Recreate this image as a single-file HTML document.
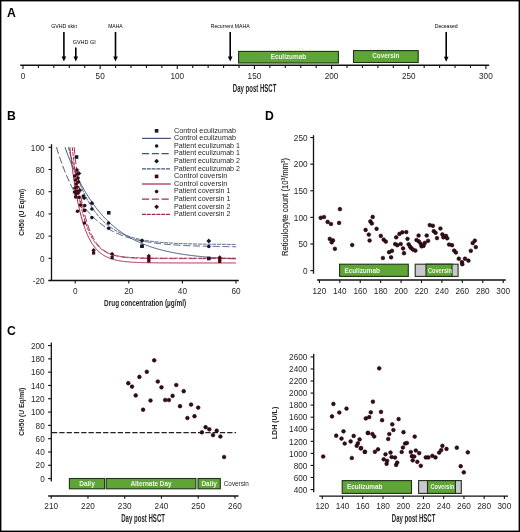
<!DOCTYPE html>
<html><head><meta charset="utf-8"><style>
html,body{margin:0;padding:0;background:#fff;}
body{width:520px;height:532px;overflow:hidden;}
svg{display:block;font-family:"Liberation Sans", sans-serif;filter:blur(0.25px);}
</style></head><body>
<svg width="520" height="532" viewBox="0 0 520 532">
<rect width="520" height="532" fill="#fff"/>
<text x="7.00" y="17.00" font-size="12.2" text-anchor="start" font-weight="bold" fill="#000">A</text>
<line x1="20.20" y1="65.30" x2="489.20" y2="65.30" stroke="#111" stroke-width="1.4"/>
<line x1="23.00" y1="65.30" x2="23.00" y2="68.90" stroke="#111" stroke-width="1.1"/>
<line x1="38.43" y1="65.30" x2="38.43" y2="67.90" stroke="#111" stroke-width="1.1"/>
<line x1="53.86" y1="65.30" x2="53.86" y2="67.90" stroke="#111" stroke-width="1.1"/>
<line x1="69.29" y1="65.30" x2="69.29" y2="67.90" stroke="#111" stroke-width="1.1"/>
<line x1="84.72" y1="65.30" x2="84.72" y2="67.90" stroke="#111" stroke-width="1.1"/>
<line x1="100.15" y1="65.30" x2="100.15" y2="68.90" stroke="#111" stroke-width="1.1"/>
<line x1="115.58" y1="65.30" x2="115.58" y2="67.90" stroke="#111" stroke-width="1.1"/>
<line x1="131.01" y1="65.30" x2="131.01" y2="67.90" stroke="#111" stroke-width="1.1"/>
<line x1="146.44" y1="65.30" x2="146.44" y2="67.90" stroke="#111" stroke-width="1.1"/>
<line x1="161.87" y1="65.30" x2="161.87" y2="67.90" stroke="#111" stroke-width="1.1"/>
<line x1="177.30" y1="65.30" x2="177.30" y2="68.90" stroke="#111" stroke-width="1.1"/>
<line x1="192.73" y1="65.30" x2="192.73" y2="67.90" stroke="#111" stroke-width="1.1"/>
<line x1="208.16" y1="65.30" x2="208.16" y2="67.90" stroke="#111" stroke-width="1.1"/>
<line x1="223.59" y1="65.30" x2="223.59" y2="67.90" stroke="#111" stroke-width="1.1"/>
<line x1="239.02" y1="65.30" x2="239.02" y2="67.90" stroke="#111" stroke-width="1.1"/>
<line x1="254.45" y1="65.30" x2="254.45" y2="68.90" stroke="#111" stroke-width="1.1"/>
<line x1="269.88" y1="65.30" x2="269.88" y2="67.90" stroke="#111" stroke-width="1.1"/>
<line x1="285.31" y1="65.30" x2="285.31" y2="67.90" stroke="#111" stroke-width="1.1"/>
<line x1="300.74" y1="65.30" x2="300.74" y2="67.90" stroke="#111" stroke-width="1.1"/>
<line x1="316.17" y1="65.30" x2="316.17" y2="67.90" stroke="#111" stroke-width="1.1"/>
<line x1="331.60" y1="65.30" x2="331.60" y2="68.90" stroke="#111" stroke-width="1.1"/>
<line x1="347.03" y1="65.30" x2="347.03" y2="67.90" stroke="#111" stroke-width="1.1"/>
<line x1="362.46" y1="65.30" x2="362.46" y2="67.90" stroke="#111" stroke-width="1.1"/>
<line x1="377.89" y1="65.30" x2="377.89" y2="67.90" stroke="#111" stroke-width="1.1"/>
<line x1="393.32" y1="65.30" x2="393.32" y2="67.90" stroke="#111" stroke-width="1.1"/>
<line x1="408.75" y1="65.30" x2="408.75" y2="68.90" stroke="#111" stroke-width="1.1"/>
<line x1="424.18" y1="65.30" x2="424.18" y2="67.90" stroke="#111" stroke-width="1.1"/>
<line x1="439.61" y1="65.30" x2="439.61" y2="67.90" stroke="#111" stroke-width="1.1"/>
<line x1="455.04" y1="65.30" x2="455.04" y2="67.90" stroke="#111" stroke-width="1.1"/>
<line x1="470.47" y1="65.30" x2="470.47" y2="67.90" stroke="#111" stroke-width="1.1"/>
<line x1="485.90" y1="65.30" x2="485.90" y2="68.90" stroke="#111" stroke-width="1.1"/>
<text x="23.00" y="78.90" font-size="8.2" text-anchor="middle" font-weight="normal" fill="#262626">0</text>
<text x="100.15" y="78.90" font-size="8.2" text-anchor="middle" font-weight="normal" fill="#262626">50</text>
<text x="177.30" y="78.90" font-size="8.2" text-anchor="middle" font-weight="normal" fill="#262626">100</text>
<text x="254.45" y="78.90" font-size="8.2" text-anchor="middle" font-weight="normal" fill="#262626">150</text>
<text x="331.60" y="78.90" font-size="8.2" text-anchor="middle" font-weight="normal" fill="#262626">200</text>
<text x="408.75" y="78.90" font-size="8.2" text-anchor="middle" font-weight="normal" fill="#262626">250</text>
<text x="485.90" y="78.90" font-size="8.2" text-anchor="middle" font-weight="normal" fill="#262626">300</text>
<text x="254.60" y="91.80" font-size="10.0" text-anchor="middle" font-weight="bold" fill="#262626" textLength="43.5" lengthAdjust="spacingAndGlyphs">Day post HSCT</text>
<line x1="63.90" y1="31.90" x2="63.90" y2="56.90" stroke="#000" stroke-width="1.6"/>
<path d="M61.60,56.40 L66.20,56.40 L63.90,61.40 Z" fill="#000"/>
<line x1="75.80" y1="47.60" x2="75.80" y2="56.90" stroke="#000" stroke-width="1.6"/>
<path d="M73.50,56.40 L78.10,56.40 L75.80,61.40 Z" fill="#000"/>
<line x1="115.50" y1="31.90" x2="115.50" y2="56.90" stroke="#000" stroke-width="1.6"/>
<path d="M113.20,56.40 L117.80,56.40 L115.50,61.40 Z" fill="#000"/>
<line x1="230.20" y1="32.10" x2="230.20" y2="57.10" stroke="#000" stroke-width="1.6"/>
<path d="M227.90,56.60 L232.50,56.60 L230.20,61.60 Z" fill="#000"/>
<line x1="446.20" y1="31.90" x2="446.20" y2="57.30" stroke="#000" stroke-width="1.6"/>
<path d="M443.90,56.80 L448.50,56.80 L446.20,61.80 Z" fill="#000"/>
<text x="64.20" y="28.00" font-size="5.4" text-anchor="middle" font-weight="normal" fill="#000" textLength="26" lengthAdjust="spacingAndGlyphs">GVHD skin</text>
<text x="84.20" y="43.90" font-size="5.4" text-anchor="middle" font-weight="normal" fill="#000" textLength="23" lengthAdjust="spacingAndGlyphs">GVHD GI</text>
<text x="115.40" y="28.00" font-size="5.4" text-anchor="middle" font-weight="normal" fill="#000" textLength="14.5" lengthAdjust="spacingAndGlyphs">MAHA</text>
<text x="230.20" y="27.90" font-size="5.4" text-anchor="middle" font-weight="normal" fill="#000" textLength="39" lengthAdjust="spacingAndGlyphs">Recurrent MAHA</text>
<text x="446.20" y="28.10" font-size="5.4" text-anchor="middle" font-weight="normal" fill="#000" textLength="23" lengthAdjust="spacingAndGlyphs">Deceased</text>
<rect x="238.60" y="51.40" width="99.80" height="11.60" fill="#5ea437" stroke="#1f3315" stroke-width="1.1"/>
<text x="288.40" y="59.40" font-size="6.4" text-anchor="middle" font-weight="bold" fill="#eef7e6" textLength="35.5" lengthAdjust="spacingAndGlyphs">Eculizumab</text>
<rect x="353.50" y="50.60" width="64.70" height="11.90" fill="#5ea437" stroke="#1f3315" stroke-width="1.1"/>
<text x="385.80" y="58.30" font-size="6.4" text-anchor="middle" font-weight="bold" fill="#eef7e6" textLength="27" lengthAdjust="spacingAndGlyphs">Coversin</text>
<text x="7.00" y="119.90" font-size="12.2" text-anchor="start" font-weight="bold" fill="#000">B</text>
<line x1="51.50" y1="144.20" x2="51.50" y2="280.50" stroke="#111" stroke-width="1.3"/>
<line x1="48.50" y1="280.50" x2="51.50" y2="280.50" stroke="#111" stroke-width="1.1"/>
<text x="44.50" y="283.70" font-size="8.2" text-anchor="end" font-weight="normal" fill="#262626">-20</text>
<line x1="48.50" y1="258.30" x2="51.50" y2="258.30" stroke="#111" stroke-width="1.1"/>
<text x="44.50" y="261.50" font-size="8.2" text-anchor="end" font-weight="normal" fill="#262626">0</text>
<line x1="48.50" y1="236.10" x2="51.50" y2="236.10" stroke="#111" stroke-width="1.1"/>
<text x="44.50" y="239.30" font-size="8.2" text-anchor="end" font-weight="normal" fill="#262626">20</text>
<line x1="48.50" y1="213.90" x2="51.50" y2="213.90" stroke="#111" stroke-width="1.1"/>
<text x="44.50" y="217.10" font-size="8.2" text-anchor="end" font-weight="normal" fill="#262626">40</text>
<line x1="48.50" y1="191.70" x2="51.50" y2="191.70" stroke="#111" stroke-width="1.1"/>
<text x="44.50" y="194.90" font-size="8.2" text-anchor="end" font-weight="normal" fill="#262626">60</text>
<line x1="48.50" y1="169.50" x2="51.50" y2="169.50" stroke="#111" stroke-width="1.1"/>
<text x="44.50" y="172.70" font-size="8.2" text-anchor="end" font-weight="normal" fill="#262626">80</text>
<line x1="48.50" y1="147.30" x2="51.50" y2="147.30" stroke="#111" stroke-width="1.1"/>
<text x="44.50" y="150.50" font-size="8.2" text-anchor="end" font-weight="normal" fill="#262626">100</text>
<line x1="48.50" y1="280.50" x2="238.80" y2="280.50" stroke="#111" stroke-width="1.3"/>
<line x1="75.20" y1="280.50" x2="75.20" y2="283.50" stroke="#111" stroke-width="1.1"/>
<text x="75.20" y="293.50" font-size="8.2" text-anchor="middle" font-weight="normal" fill="#262626">0</text>
<line x1="128.80" y1="280.50" x2="128.80" y2="283.50" stroke="#111" stroke-width="1.1"/>
<text x="128.80" y="293.50" font-size="8.2" text-anchor="middle" font-weight="normal" fill="#262626">20</text>
<line x1="182.40" y1="280.50" x2="182.40" y2="283.50" stroke="#111" stroke-width="1.1"/>
<text x="182.40" y="293.50" font-size="8.2" text-anchor="middle" font-weight="normal" fill="#262626">40</text>
<line x1="236.00" y1="280.50" x2="236.00" y2="283.50" stroke="#111" stroke-width="1.1"/>
<text x="236.00" y="293.50" font-size="8.2" text-anchor="middle" font-weight="normal" fill="#262626">60</text>
<text x="145.10" y="306.30" font-size="9.8" text-anchor="middle" font-weight="bold" fill="#262626" textLength="82" lengthAdjust="spacingAndGlyphs">Drug concentration (µg/ml)</text>
<text transform="translate(24.3,212.3) rotate(-90)" font-size="7.8" font-weight="bold" text-anchor="middle" fill="#262626" textLength="47" lengthAdjust="spacingAndGlyphs">CH50 (U Eq/ml)</text>
<clipPath id="clipB"><rect x="51" y="147.1" width="190" height="133"/></clipPath>
<polyline points="65.02,147.30 65.69,149.15 66.36,150.98 67.03,152.77 67.70,154.53 68.37,156.27 69.04,157.97 69.71,159.65 70.38,161.30 71.05,162.92 71.72,164.52 72.39,166.09 73.06,167.64 73.73,169.16 74.40,170.65 75.07,172.12 75.74,173.57 76.41,174.99 77.08,176.39 77.75,177.77 78.42,179.12 79.09,180.46 79.76,181.77 80.43,183.05 81.10,184.32 81.77,185.57 82.44,186.80 83.11,188.00 83.78,189.19 84.45,190.36 85.12,191.50 85.79,192.63 86.46,193.74 87.13,194.84 87.80,195.91 88.47,196.97 89.14,198.01 89.81,199.03 90.48,200.04 91.15,201.03 91.82,202.00 92.49,202.96 93.16,203.90 93.83,204.83 94.50,205.74 95.17,206.64 95.84,207.52 96.51,208.39 97.18,209.24 97.85,210.08 98.52,210.90 99.19,211.71 99.86,212.51 100.53,213.30 101.20,214.07 101.87,214.83 102.54,215.58 103.21,216.32 103.88,217.04 104.55,217.75 105.22,218.45 105.89,219.14 106.56,219.82 107.23,220.48 107.90,221.14 108.57,221.78 109.24,222.42 109.91,223.04 110.58,223.65 111.25,224.26 111.92,224.85 112.59,225.43 113.26,226.01 113.93,226.57 114.60,227.13 115.27,227.67 115.94,228.21 116.61,228.74 117.28,229.26 117.95,229.77 118.62,230.27 119.29,230.77 119.96,231.26 120.63,231.74 121.30,232.21 121.97,232.67 122.64,233.13 123.31,233.57 123.98,234.02 124.65,234.45 125.32,234.88 125.99,235.30 126.66,235.71 127.33,236.11 128.00,236.51 128.67,236.91 129.34,237.29 130.01,237.67 130.68,238.05 131.35,238.41 132.02,238.78 132.69,239.13 133.36,239.48 134.03,239.83 134.70,240.16 135.37,240.50 136.04,240.83 136.71,241.15 137.38,241.46 138.05,241.78 138.72,242.08 139.39,242.39 140.06,242.68 140.73,242.97 141.40,243.26 142.07,243.54 142.74,243.82 143.41,244.09 144.08,244.36 144.75,244.63 145.42,244.89 146.09,245.14 146.76,245.40 147.43,245.64 148.10,245.89 148.77,246.13 149.44,246.36 150.11,246.59 150.78,246.82 151.45,247.05 152.12,247.27 152.79,247.48 153.46,247.70 154.13,247.91 154.80,248.11 155.47,248.32 156.14,248.51 156.81,248.71 157.48,248.90 158.15,249.09 158.82,249.28 159.49,249.47 160.16,249.65 160.83,249.82 161.50,250.00 162.17,250.17 162.84,250.34 163.51,250.51 164.18,250.67 164.85,250.83 165.52,250.99 166.19,251.15 166.86,251.30 167.53,251.45 168.20,251.60 168.87,251.75 169.54,251.89 170.21,252.03 170.88,252.17 171.55,252.31 172.22,252.44 172.89,252.57 173.56,252.70 174.23,252.83 174.90,252.96 175.57,253.08 176.24,253.20 176.91,253.32 177.58,253.44 178.25,253.56 178.92,253.67 179.59,253.78 180.26,253.89 180.93,254.00 181.60,254.11 182.27,254.21 182.94,254.32 183.61,254.42 184.28,254.52 184.95,254.61 185.62,254.71 186.29,254.81 186.96,254.90 187.63,254.99 188.30,255.08 188.97,255.17 189.64,255.26 190.31,255.35 190.98,255.43 191.65,255.51 192.32,255.59 192.99,255.68 193.66,255.75 194.33,255.83 195.00,255.91 195.67,255.98 196.34,256.06 197.01,256.13 197.68,256.20 198.35,256.27 199.02,256.34 199.69,256.41 200.36,256.48 201.03,256.55 201.70,256.61 202.37,256.67 203.04,256.74 203.71,256.80 204.38,256.86 205.05,256.92 205.72,256.98 206.39,257.04 207.06,257.09 207.73,257.15 208.40,257.21 209.07,257.26 209.74,257.31 210.41,257.37 211.08,257.42 211.75,257.47 212.42,257.52 213.09,257.57 213.76,257.62 214.43,257.66 215.10,257.71 215.77,257.76 216.44,257.80 217.11,257.85 217.78,257.89 218.45,257.93 219.12,257.97 219.79,258.02 220.46,258.06 221.13,258.10 221.80,258.14 222.47,258.18 223.14,258.21 223.81,258.25 224.48,258.29 225.15,258.33 225.82,258.36 226.49,258.40 227.16,258.43 227.83,258.47 228.50,258.50 229.17,258.53 229.84,258.57 230.51,258.60 231.18,258.63 231.85,258.66 232.52,258.69 233.19,258.72 233.86,258.75 234.53,258.78 235.20,258.81 235.87,258.83" fill="none" stroke="#3f5577" stroke-width="1.0" clip-path="url(#clipB)"/>
<polyline points="56.44,147.30 57.11,149.47 57.78,151.59 58.45,153.67 59.12,155.70 59.79,157.68 60.46,159.63 61.13,161.53 61.80,163.39 62.47,165.21 63.14,166.98 63.81,168.73 64.48,170.43 65.15,172.09 65.82,173.72 66.49,175.32 67.16,176.88 67.83,178.40 68.50,179.89 69.17,181.35 69.84,182.78 70.51,184.18 71.18,185.55 71.85,186.88 72.52,188.19 73.19,189.47 73.86,190.72 74.53,191.94 75.20,193.14 75.87,194.31 76.54,195.46 77.21,196.58 77.88,197.68 78.55,198.75 79.22,199.80 79.89,200.83 80.56,201.83 81.23,202.81 81.90,203.77 82.57,204.71 83.24,205.63 83.91,206.53 84.58,207.41 85.25,208.27 85.92,209.12 86.59,209.94 87.26,210.75 87.93,211.53 88.60,212.31 89.27,213.06 89.94,213.80 90.61,214.52 91.28,215.23 91.95,215.92 92.62,216.59 93.29,217.25 93.96,217.90 94.63,218.53 95.30,219.15 95.97,219.76 96.64,220.35 97.31,220.93 97.98,221.50 98.65,222.05 99.32,222.59 99.99,223.12 100.66,223.64 101.33,224.15 102.00,224.65 102.67,225.13 103.34,225.61 104.01,226.07 104.68,226.53 105.35,226.97 106.02,227.41 106.69,227.83 107.36,228.25 108.03,228.66 108.70,229.06 109.37,229.45 110.04,229.83 110.71,230.20 111.38,230.57 112.05,230.92 112.72,231.27 113.39,231.62 114.06,231.95 114.73,232.28 115.40,232.60 116.07,232.91 116.74,233.22 117.41,233.52 118.08,233.81 118.75,234.09 119.42,234.37 120.09,234.65 120.76,234.92 121.43,235.18 122.10,235.44 122.77,235.69 123.44,235.93 124.11,236.17 124.78,236.41 125.45,236.64 126.12,236.86 126.79,237.08 127.46,237.30 128.13,237.51 128.80,237.72 129.47,237.92 130.14,238.11 130.81,238.31 131.48,238.50 132.15,238.68 132.82,238.86 133.49,239.04 134.16,239.21 134.83,239.38 135.50,239.54 136.17,239.71 136.84,239.86 137.51,240.02 138.18,240.17 138.85,240.32 139.52,240.46 140.19,240.61 140.86,240.74 141.53,240.88 142.20,241.01 142.87,241.14 143.54,241.27 144.21,241.39 144.88,241.52 145.55,241.63 146.22,241.75 146.89,241.86 147.56,241.98 148.23,242.08 148.90,242.19 149.57,242.29 150.24,242.40 150.91,242.50 151.58,242.59 152.25,242.69 152.92,242.78 153.59,242.87 154.26,242.96 154.93,243.05 155.60,243.14 156.27,243.22 156.94,243.30 157.61,243.38 158.28,243.46 158.95,243.54 159.62,243.61 160.29,243.68 160.96,243.76 161.63,243.83 162.30,243.89 162.97,243.96 163.64,244.03 164.31,244.09 164.98,244.15 165.65,244.22 166.32,244.28 166.99,244.33 167.66,244.39 168.33,244.45 169.00,244.50 169.67,244.56 170.34,244.61 171.01,244.66 171.68,244.71 172.35,244.76 173.02,244.81 173.69,244.86 174.36,244.90 175.03,244.95 175.70,244.99 176.37,245.04 177.04,245.08 177.71,245.12 178.38,245.16 179.05,245.20 179.72,245.24 180.39,245.28 181.06,245.31 181.73,245.35 182.40,245.38 183.07,245.42 183.74,245.45 184.41,245.49 185.08,245.52 185.75,245.55 186.42,245.58 187.09,245.61 187.76,245.64 188.43,245.67 189.10,245.70 189.77,245.73 190.44,245.75 191.11,245.78 191.78,245.81 192.45,245.83 193.12,245.86 193.79,245.88 194.46,245.91 195.13,245.93 195.80,245.95 196.47,245.97 197.14,246.00 197.81,246.02 198.48,246.04 199.15,246.06 199.82,246.08 200.49,246.10 201.16,246.12 201.83,246.14 202.50,246.15 203.17,246.17 203.84,246.19 204.51,246.21 205.18,246.22 205.85,246.24 206.52,246.26 207.19,246.27 207.86,246.29 208.53,246.30 209.20,246.32 209.87,246.33 210.54,246.35 211.21,246.36 211.88,246.37 212.55,246.39 213.22,246.40 213.89,246.41 214.56,246.42 215.23,246.44 215.90,246.45 216.57,246.46 217.24,246.47 217.91,246.48 218.58,246.49 219.25,246.50 219.92,246.51 220.59,246.52 221.26,246.53 221.93,246.54 222.60,246.55 223.27,246.56 223.94,246.57 224.61,246.58 225.28,246.59 225.95,246.60 226.62,246.60 227.29,246.61 227.96,246.62 228.63,246.63 229.30,246.64 229.97,246.64 230.64,246.65 231.31,246.66 231.98,246.67 232.65,246.67 233.32,246.68 233.99,246.69 234.66,246.69 235.33,246.70 236.00,246.70" fill="none" stroke="#3f5577" stroke-width="1.0" stroke-dasharray="7.1,2.7" clip-path="url(#clipB)"/>
<polyline points="68.50,147.30 69.17,149.94 69.84,152.50 70.51,155.00 71.18,157.43 71.85,159.79 72.52,162.09 73.19,164.33 73.86,166.50 74.53,168.62 75.20,170.68 75.87,172.68 76.54,174.63 77.21,176.53 77.88,178.37 78.55,180.17 79.22,181.91 79.89,183.61 80.56,185.26 81.23,186.87 81.90,188.44 82.57,189.96 83.24,191.44 83.91,192.88 84.58,194.28 85.25,195.64 85.92,196.97 86.59,198.26 87.26,199.51 87.93,200.74 88.60,201.92 89.27,203.08 89.94,204.20 90.61,205.30 91.28,206.36 91.95,207.40 92.62,208.41 93.29,209.39 93.96,210.34 94.63,211.27 95.30,212.17 95.97,213.05 96.64,213.90 97.31,214.73 97.98,215.54 98.65,216.33 99.32,217.09 99.99,217.84 100.66,218.56 101.33,219.27 102.00,219.95 102.67,220.62 103.34,221.27 104.01,221.90 104.68,222.51 105.35,223.11 106.02,223.69 106.69,224.26 107.36,224.81 108.03,225.34 108.70,225.86 109.37,226.37 110.04,226.86 110.71,227.34 111.38,227.81 112.05,228.26 112.72,228.70 113.39,229.13 114.06,229.55 114.73,229.96 115.40,230.35 116.07,230.74 116.74,231.11 117.41,231.47 118.08,231.83 118.75,232.17 119.42,232.51 120.09,232.84 120.76,233.15 121.43,233.46 122.10,233.76 122.77,234.05 123.44,234.34 124.11,234.62 124.78,234.88 125.45,235.15 126.12,235.40 126.79,235.65 127.46,235.89 128.13,236.12 128.80,236.35 129.47,236.57 130.14,236.79 130.81,237.00 131.48,237.20 132.15,237.40 132.82,237.60 133.49,237.79 134.16,237.97 134.83,238.15 135.50,238.32 136.17,238.49 136.84,238.65 137.51,238.81 138.18,238.97 138.85,239.12 139.52,239.27 140.19,239.41 140.86,239.55 141.53,239.68 142.20,239.81 142.87,239.94 143.54,240.07 144.21,240.19 144.88,240.31 145.55,240.42 146.22,240.53 146.89,240.64 147.56,240.75 148.23,240.85 148.90,240.95 149.57,241.05 150.24,241.14 150.91,241.23 151.58,241.32 152.25,241.41 152.92,241.50 153.59,241.58 154.26,241.66 154.93,241.74 155.60,241.81 156.27,241.89 156.94,241.96 157.61,242.03 158.28,242.10 158.95,242.16 159.62,242.23 160.29,242.29 160.96,242.35 161.63,242.41 162.30,242.47 162.97,242.52 163.64,242.58 164.31,242.63 164.98,242.68 165.65,242.73 166.32,242.78 166.99,242.83 167.66,242.88 168.33,242.92 169.00,242.96 169.67,243.01 170.34,243.05 171.01,243.09 171.68,243.13 172.35,243.17 173.02,243.20 173.69,243.24 174.36,243.27 175.03,243.31 175.70,243.34 176.37,243.37 177.04,243.41 177.71,243.44 178.38,243.47 179.05,243.50 179.72,243.52 180.39,243.55 181.06,243.58 181.73,243.60 182.40,243.63 183.07,243.65 183.74,243.68 184.41,243.70 185.08,243.72 185.75,243.75 186.42,243.77 187.09,243.79 187.76,243.81 188.43,243.83 189.10,243.85 189.77,243.87 190.44,243.88 191.11,243.90 191.78,243.92 192.45,243.94 193.12,243.95 193.79,243.97 194.46,243.98 195.13,244.00 195.80,244.01 196.47,244.03 197.14,244.04 197.81,244.05 198.48,244.07 199.15,244.08 199.82,244.09 200.49,244.10 201.16,244.12 201.83,244.13 202.50,244.14 203.17,244.15 203.84,244.16 204.51,244.17 205.18,244.18 205.85,244.19 206.52,244.20 207.19,244.21 207.86,244.22 208.53,244.23 209.20,244.23 209.87,244.24 210.54,244.25 211.21,244.26 211.88,244.27 212.55,244.27 213.22,244.28 213.89,244.29 214.56,244.29 215.23,244.30 215.90,244.31 216.57,244.31 217.24,244.32 217.91,244.32 218.58,244.33 219.25,244.34 219.92,244.34 220.59,244.35 221.26,244.35 221.93,244.36 222.60,244.36 223.27,244.37 223.94,244.37 224.61,244.38 225.28,244.38 225.95,244.38 226.62,244.39 227.29,244.39 227.96,244.40 228.63,244.40 229.30,244.40 229.97,244.41 230.64,244.41 231.31,244.41 231.98,244.42 232.65,244.42 233.32,244.42 233.99,244.43 234.66,244.43 235.33,244.43 236.00,244.44" fill="none" stroke="#3f5577" stroke-width="1.0" stroke-dasharray="3.9,0.9" clip-path="url(#clipB)"/>
<polyline points="69.84,147.30 70.51,153.35 71.18,159.09 71.85,164.52 72.52,169.68 73.19,174.56 73.86,179.18 74.53,183.57 75.20,187.72 75.87,191.66 76.54,195.39 77.21,198.93 77.88,202.28 78.55,205.45 79.22,208.46 79.89,211.32 80.56,214.02 81.23,216.58 81.90,219.01 82.57,221.31 83.24,223.49 83.91,225.55 84.58,227.51 85.25,229.37 85.92,231.12 86.59,232.79 87.26,234.37 87.93,235.87 88.60,237.28 89.27,238.63 89.94,239.90 90.61,241.11 91.28,242.25 91.95,243.33 92.62,244.36 93.29,245.34 93.96,246.26 94.63,247.13 95.30,247.96 95.97,248.75 96.64,249.49 97.31,250.19 97.98,250.86 98.65,251.50 99.32,252.10 99.99,252.66 100.66,253.20 101.33,253.71 102.00,254.20 102.67,254.66 103.34,255.09 104.01,255.50 104.68,255.89 105.35,256.26 106.02,256.61 106.69,256.95 107.36,257.26 108.03,257.56 108.70,257.84 109.37,258.11 110.04,258.36 110.71,258.60 111.38,258.83 112.05,259.05 112.72,259.25 113.39,259.45 114.06,259.63 114.73,259.81 115.40,259.97 116.07,260.13 116.74,260.28 117.41,260.42 118.08,260.55 118.75,260.68 119.42,260.80 120.09,260.91 120.76,261.02 121.43,261.12 122.10,261.21 122.77,261.31 123.44,261.39 124.11,261.47 124.78,261.55 125.45,261.63 126.12,261.70 126.79,261.76 127.46,261.83 128.13,261.88 128.80,261.94 129.47,261.99 130.14,262.05 130.81,262.09 131.48,262.14 132.15,262.18 132.82,262.22 133.49,262.26 134.16,262.30 134.83,262.33 135.50,262.37 136.17,262.40 136.84,262.43 137.51,262.45 138.18,262.48 138.85,262.51 139.52,262.53 140.19,262.55 140.86,262.57 141.53,262.59 142.20,262.61 142.87,262.63 143.54,262.65 144.21,262.67 144.88,262.68 145.55,262.70 146.22,262.71 146.89,262.72 147.56,262.74 148.23,262.75 148.90,262.76 149.57,262.77 150.24,262.78 150.91,262.79 151.58,262.80 152.25,262.81 152.92,262.81 153.59,262.82 154.26,262.83 154.93,262.84 155.60,262.84 156.27,262.85 156.94,262.86 157.61,262.86 158.28,262.87 158.95,262.87 159.62,262.88 160.29,262.88 160.96,262.88 161.63,262.89 162.30,262.89 162.97,262.90 163.64,262.90 164.31,262.90 164.98,262.91 165.65,262.91 166.32,262.91 166.99,262.91 167.66,262.92 168.33,262.92 169.00,262.92 169.67,262.92 170.34,262.93 171.01,262.93 171.68,262.93 172.35,262.93 173.02,262.93 173.69,262.93 174.36,262.94 175.03,262.94 175.70,262.94 176.37,262.94 177.04,262.94 177.71,262.94 178.38,262.94 179.05,262.94 179.72,262.94 180.39,262.95 181.06,262.95 181.73,262.95 182.40,262.95 183.07,262.95 183.74,262.95 184.41,262.95 185.08,262.95 185.75,262.95 186.42,262.95 187.09,262.95 187.76,262.95 188.43,262.95 189.10,262.95 189.77,262.95 190.44,262.95 191.11,262.96 191.78,262.96 192.45,262.96 193.12,262.96 193.79,262.96 194.46,262.96 195.13,262.96 195.80,262.96 196.47,262.96 197.14,262.96 197.81,262.96 198.48,262.96 199.15,262.96 199.82,262.96 200.49,262.96 201.16,262.96 201.83,262.96 202.50,262.96 203.17,262.96 203.84,262.96 204.51,262.96 205.18,262.96 205.85,262.96 206.52,262.96 207.19,262.96 207.86,262.96 208.53,262.96 209.20,262.96 209.87,262.96 210.54,262.96 211.21,262.96 211.88,262.96 212.55,262.96 213.22,262.96 213.89,262.96 214.56,262.96 215.23,262.96 215.90,262.96 216.57,262.96 217.24,262.96 217.91,262.96 218.58,262.96 219.25,262.96 219.92,262.96 220.59,262.96 221.26,262.96 221.93,262.96 222.60,262.96 223.27,262.96 223.94,262.96 224.61,262.96 225.28,262.96 225.95,262.96 226.62,262.96 227.29,262.96 227.96,262.96 228.63,262.96 229.30,262.96 229.97,262.96 230.64,262.96 231.31,262.96 231.98,262.96 232.65,262.96 233.32,262.96 233.99,262.96 234.66,262.96 235.33,262.96 236.00,262.96" fill="none" stroke="#a8284a" stroke-width="1.0" clip-path="url(#clipB)"/>
<polyline points="74.13,147.30 74.80,153.65 75.47,159.64 76.14,165.29 76.81,170.62 77.48,175.64 78.15,180.37 78.82,184.84 79.49,189.05 80.16,193.02 80.83,196.76 81.50,200.29 82.17,203.62 82.84,206.76 83.51,209.72 84.18,212.51 84.85,215.14 85.52,217.62 86.19,219.96 86.86,222.17 87.53,224.25 88.20,226.21 88.87,228.06 89.54,229.81 90.21,231.45 90.88,233.00 91.55,234.47 92.22,235.84 92.89,237.14 93.56,238.37 94.23,239.53 94.90,240.62 95.57,241.64 96.24,242.61 96.91,243.53 97.58,244.39 98.25,245.20 98.92,245.97 99.59,246.69 100.26,247.37 100.93,248.02 101.60,248.62 102.27,249.19 102.94,249.73 103.61,250.24 104.28,250.72 104.95,251.17 105.62,251.60 106.29,252.00 106.96,252.38 107.63,252.73 108.30,253.07 108.97,253.39 109.64,253.69 110.31,253.97 110.98,254.23 111.65,254.49 112.32,254.72 112.99,254.95 113.66,255.16 114.33,255.35 115.00,255.54 115.67,255.72 116.34,255.88 117.01,256.04 117.68,256.19 118.35,256.33 119.02,256.46 119.69,256.58 120.36,256.70 121.03,256.81 121.70,256.91 122.37,257.01 123.04,257.11 123.71,257.19 124.38,257.27 125.05,257.35 125.72,257.43 126.39,257.49 127.06,257.56 127.73,257.62 128.40,257.68 129.07,257.73 129.74,257.78 130.41,257.83 131.08,257.88 131.75,257.92 132.42,257.96 133.09,258.00 133.76,258.04 134.43,258.07 135.10,258.10 135.77,258.13 136.44,258.16 137.11,258.19 137.78,258.21 138.45,258.24 139.12,258.26 139.79,258.28 140.46,258.30 141.13,258.32 141.80,258.34 142.47,258.35 143.14,258.37 143.81,258.39 144.48,258.40 145.15,258.41 145.82,258.43 146.49,258.44 147.16,258.45 147.83,258.46 148.50,258.47 149.17,258.48 149.84,258.49 150.51,258.50 151.18,258.50 151.85,258.51 152.52,258.52 153.19,258.52 153.86,258.53 154.53,258.54 155.20,258.54 155.87,258.55 156.54,258.55 157.21,258.56 157.88,258.56 158.55,258.57 159.22,258.57 159.89,258.57 160.56,258.58 161.23,258.58 161.90,258.58 162.57,258.59 163.24,258.59 163.91,258.59 164.58,258.59 165.25,258.60 165.92,258.60 166.59,258.60 167.26,258.60 167.93,258.60 168.60,258.60 169.27,258.61 169.94,258.61 170.61,258.61 171.28,258.61 171.95,258.61 172.62,258.61 173.29,258.61 173.96,258.62 174.63,258.62 175.30,258.62 175.97,258.62 176.64,258.62 177.31,258.62 177.98,258.62 178.65,258.62 179.32,258.62 179.99,258.62 180.66,258.62 181.33,258.62 182.00,258.62 182.67,258.62 183.34,258.63 184.01,258.63 184.68,258.63 185.35,258.63 186.02,258.63 186.69,258.63 187.36,258.63 188.03,258.63 188.70,258.63 189.37,258.63 190.04,258.63 190.71,258.63 191.38,258.63 192.05,258.63 192.72,258.63 193.39,258.63 194.06,258.63 194.73,258.63 195.40,258.63 196.07,258.63 196.74,258.63 197.41,258.63 198.08,258.63 198.75,258.63 199.42,258.63 200.09,258.63 200.76,258.63 201.43,258.63 202.10,258.63 202.77,258.63 203.44,258.63 204.11,258.63 204.78,258.63 205.45,258.63 206.12,258.63 206.79,258.63 207.46,258.63 208.13,258.63 208.80,258.63 209.47,258.63 210.14,258.63 210.81,258.63 211.48,258.63 212.15,258.63 212.82,258.63 213.49,258.63 214.16,258.63 214.83,258.63 215.50,258.63 216.17,258.63 216.84,258.63 217.51,258.63 218.18,258.63 218.85,258.63 219.52,258.63 220.19,258.63 220.86,258.63 221.53,258.63 222.20,258.63 222.87,258.63 223.54,258.63 224.21,258.63 224.88,258.63 225.55,258.63 226.22,258.63 226.89,258.63 227.56,258.63 228.23,258.63 228.90,258.63 229.57,258.63 230.24,258.63 230.91,258.63 231.58,258.63 232.25,258.63 232.92,258.63 233.59,258.63 234.26,258.63 234.93,258.63 235.60,258.63" fill="none" stroke="#a8284a" stroke-width="1.0" stroke-dasharray="7.1,2.7" clip-path="url(#clipB)"/>
<polyline points="72.25,147.30 72.92,153.50 73.59,159.35 74.26,164.87 74.93,170.08 75.60,175.01 76.27,179.66 76.94,184.04 77.61,188.19 78.28,192.10 78.95,195.79 79.62,199.28 80.29,202.57 80.96,205.68 81.63,208.61 82.30,211.38 82.97,214.00 83.64,216.47 84.31,218.80 84.98,221.00 85.65,223.08 86.32,225.04 86.99,226.89 87.66,228.64 88.33,230.29 89.00,231.85 89.67,233.32 90.34,234.71 91.01,236.02 91.68,237.26 92.35,238.43 93.02,239.54 93.69,240.58 94.36,241.56 95.03,242.49 95.70,243.37 96.37,244.20 97.04,244.98 97.71,245.72 98.38,246.41 99.05,247.07 99.72,247.69 100.39,248.28 101.06,248.83 101.73,249.36 102.40,249.85 103.07,250.32 103.74,250.76 104.41,251.17 105.08,251.56 105.75,251.93 106.42,252.28 107.09,252.61 107.76,252.92 108.43,253.22 109.10,253.50 109.77,253.76 110.44,254.01 111.11,254.24 111.78,254.46 112.45,254.67 113.12,254.87 113.79,255.05 114.46,255.23 115.13,255.39 115.80,255.55 116.47,255.70 117.14,255.84 117.81,255.97 118.48,256.09 119.15,256.21 119.82,256.32 120.49,256.42 121.16,256.52 121.83,256.62 122.50,256.70 123.17,256.79 123.84,256.86 124.51,256.94 125.18,257.01 125.85,257.07 126.52,257.14 127.19,257.20 127.86,257.25 128.53,257.30 129.20,257.35 129.87,257.40 130.54,257.44 131.21,257.49 131.88,257.52 132.55,257.56 133.22,257.60 133.89,257.63 134.56,257.66 135.23,257.69 135.90,257.72 136.57,257.74 137.24,257.77 137.91,257.79 138.58,257.82 139.25,257.84 139.92,257.86 140.59,257.87 141.26,257.89 141.93,257.91 142.60,257.92 143.27,257.94 143.94,257.95 144.61,257.97 145.28,257.98 145.95,257.99 146.62,258.00 147.29,258.01 147.96,258.02 148.63,258.03 149.30,258.04 149.97,258.05 150.64,258.06 151.31,258.06 151.98,258.07 152.65,258.08 153.32,258.08 153.99,258.09 154.66,258.09 155.33,258.10 156.00,258.11 156.67,258.11 157.34,258.11 158.01,258.12 158.68,258.12 159.35,258.13 160.02,258.13 160.69,258.13 161.36,258.14 162.03,258.14 162.70,258.14 163.37,258.14 164.04,258.15 164.71,258.15 165.38,258.15 166.05,258.15 166.72,258.16 167.39,258.16 168.06,258.16 168.73,258.16 169.40,258.16 170.07,258.16 170.74,258.17 171.41,258.17 172.08,258.17 172.75,258.17 173.42,258.17 174.09,258.17 174.76,258.17 175.43,258.17 176.10,258.17 176.77,258.17 177.44,258.18 178.11,258.18 178.78,258.18 179.45,258.18 180.12,258.18 180.79,258.18 181.46,258.18 182.13,258.18 182.80,258.18 183.47,258.18 184.14,258.18 184.81,258.18 185.48,258.18 186.15,258.18 186.82,258.18 187.49,258.18 188.16,258.18 188.83,258.18 189.50,258.18 190.17,258.18 190.84,258.18 191.51,258.19 192.18,258.19 192.85,258.19 193.52,258.19 194.19,258.19 194.86,258.19 195.53,258.19 196.20,258.19 196.87,258.19 197.54,258.19 198.21,258.19 198.88,258.19 199.55,258.19 200.22,258.19 200.89,258.19 201.56,258.19 202.23,258.19 202.90,258.19 203.57,258.19 204.24,258.19 204.91,258.19 205.58,258.19 206.25,258.19 206.92,258.19 207.59,258.19 208.26,258.19 208.93,258.19 209.60,258.19 210.27,258.19 210.94,258.19 211.61,258.19 212.28,258.19 212.95,258.19 213.62,258.19 214.29,258.19 214.96,258.19 215.63,258.19 216.30,258.19 216.97,258.19 217.64,258.19 218.31,258.19 218.98,258.19 219.65,258.19 220.32,258.19 220.99,258.19 221.66,258.19 222.33,258.19 223.00,258.19 223.67,258.19 224.34,258.19 225.01,258.19 225.68,258.19 226.35,258.19 227.02,258.19 227.69,258.19 228.36,258.19 229.03,258.19 229.70,258.19 230.37,258.19 231.04,258.19 231.71,258.19 232.38,258.19 233.05,258.19 233.72,258.19 234.39,258.19 235.06,258.19 235.73,258.19" fill="none" stroke="#a8284a" stroke-width="1.0" stroke-dasharray="3.9,0.9" clip-path="url(#clipB)"/>
<rect x="74.70" y="155.20" width="3.6" height="3.6" fill="#151a2a"/>
<rect x="106.95" y="211.00" width="3.6" height="3.6" fill="#151a2a"/>
<rect x="140.20" y="244.40" width="3.6" height="3.6" fill="#151a2a"/>
<rect x="207.00" y="256.70" width="3.6" height="3.6" fill="#151a2a"/>
<circle cx="91.90" cy="209.00" r="1.8" fill="#151a2a"/>
<circle cx="91.90" cy="217.60" r="1.8" fill="#151a2a"/>
<circle cx="108.60" cy="223.00" r="1.8" fill="#151a2a"/>
<circle cx="108.60" cy="228.30" r="1.8" fill="#151a2a"/>
<circle cx="142.00" cy="246.20" r="1.8" fill="#151a2a"/>
<circle cx="208.80" cy="246.50" r="1.8" fill="#151a2a"/>
<circle cx="83.30" cy="196.00" r="1.8" fill="#151a2a"/>
<path d="M78.90,171.00 L81.30,173.40 L78.90,175.80 L76.50,173.40 Z" fill="#151a2a"/>
<path d="M91.90,200.80 L94.30,203.20 L91.90,205.60 L89.50,203.20 Z" fill="#151a2a"/>
<path d="M142.00,238.30 L144.40,240.70 L142.00,243.10 L139.60,240.70 Z" fill="#151a2a"/>
<path d="M208.80,238.60 L211.20,241.00 L208.80,243.40 L206.40,241.00 Z" fill="#151a2a"/>
<path d="M84.20,195.50 L86.60,197.90 L84.20,200.30 L81.80,197.90 Z" fill="#151a2a"/>
<circle cx="74.60" cy="176.00" r="1.8" fill="#3e0a16"/>
<circle cx="75.50" cy="180.00" r="1.8" fill="#3e0a16"/>
<circle cx="76.20" cy="184.00" r="1.8" fill="#3e0a16"/>
<circle cx="75.00" cy="188.00" r="1.8" fill="#3e0a16"/>
<circle cx="76.80" cy="191.00" r="1.8" fill="#3e0a16"/>
<circle cx="75.60" cy="196.90" r="1.8" fill="#3e0a16"/>
<circle cx="79.90" cy="190.20" r="1.8" fill="#3e0a16"/>
<circle cx="80.40" cy="205.10" r="1.8" fill="#3e0a16"/>
<circle cx="84.70" cy="205.60" r="1.8" fill="#3e0a16"/>
<circle cx="84.70" cy="210.40" r="1.8" fill="#3e0a16"/>
<circle cx="77.50" cy="211.30" r="1.8" fill="#3e0a16"/>
<circle cx="84.40" cy="223.00" r="1.8" fill="#3e0a16"/>
<circle cx="77.00" cy="170.00" r="1.8" fill="#3e0a16"/>
<circle cx="78.00" cy="178.00" r="1.8" fill="#3e0a16"/>
<circle cx="77.50" cy="174.00" r="1.8" fill="#3e0a16"/>
<circle cx="78.50" cy="182.00" r="1.8" fill="#3e0a16"/>
<circle cx="77.20" cy="187.00" r="1.8" fill="#3e0a16"/>
<circle cx="78.20" cy="193.00" r="1.8" fill="#3e0a16"/>
<circle cx="76.00" cy="194.00" r="1.8" fill="#3e0a16"/>
<circle cx="79.00" cy="197.50" r="1.8" fill="#3e0a16"/>
<circle cx="74.50" cy="192.00" r="1.8" fill="#3e0a16"/>
<rect x="92.00" y="251.40" width="3.2" height="3.2" fill="#3e0a16"/>
<rect x="110.50" y="255.90" width="3.2" height="3.2" fill="#3e0a16"/>
<rect x="147.20" y="256.90" width="3.2" height="3.2" fill="#3e0a16"/>
<rect x="147.20" y="259.40" width="3.2" height="3.2" fill="#3e0a16"/>
<rect x="218.10" y="257.90" width="3.2" height="3.2" fill="#3e0a16"/>
<rect x="218.10" y="259.90" width="3.2" height="3.2" fill="#3e0a16"/>
<path d="M93.60,248.00 L95.80,250.20 L93.60,252.40 L91.40,250.20 Z" fill="#3e0a16"/>
<path d="M112.10,251.80 L114.30,254.00 L112.10,256.20 L109.90,254.00 Z" fill="#3e0a16"/>
<path d="M148.80,253.80 L151.00,256.00 L148.80,258.20 L146.60,256.00 Z" fill="#3e0a16"/>
<path d="M219.70,255.30 L221.90,257.50 L219.70,259.70 L217.50,257.50 Z" fill="#3e0a16"/>
<rect x="154.80" y="129.00" width="3.6" height="3.6" fill="#151a2a"/>
<text x="174.00" y="132.60" font-size="7.3" text-anchor="start" font-weight="normal" fill="#262626" textLength="62" lengthAdjust="spacingAndGlyphs">Control eculizumab</text>
<line x1="142.00" y1="138.40" x2="170.80" y2="138.40" stroke="#3f5577" stroke-width="1.2"/>
<text x="174.00" y="140.20" font-size="7.3" text-anchor="start" font-weight="normal" fill="#262626" textLength="62" lengthAdjust="spacingAndGlyphs">Control eculizumab</text>
<circle cx="156.60" cy="146.00" r="1.8" fill="#151a2a"/>
<text x="174.00" y="147.80" font-size="7.3" text-anchor="start" font-weight="normal" fill="#262626" textLength="66" lengthAdjust="spacingAndGlyphs">Patient eculizumab 1</text>
<line x1="142.00" y1="153.60" x2="170.80" y2="153.60" stroke="#3f5577" stroke-width="1.2" stroke-dasharray="7.1,2.7"/>
<text x="174.00" y="155.40" font-size="7.3" text-anchor="start" font-weight="normal" fill="#262626" textLength="66" lengthAdjust="spacingAndGlyphs">Patient eculizumab 1</text>
<path d="M156.60,158.80 L159.00,161.20 L156.60,163.60 L154.20,161.20 Z" fill="#151a2a"/>
<text x="174.00" y="163.00" font-size="7.3" text-anchor="start" font-weight="normal" fill="#262626" textLength="66" lengthAdjust="spacingAndGlyphs">Patient eculizumab 2</text>
<line x1="142.00" y1="168.80" x2="170.80" y2="168.80" stroke="#3f5577" stroke-width="1.2" stroke-dasharray="3.9,0.9"/>
<text x="174.00" y="170.60" font-size="7.3" text-anchor="start" font-weight="normal" fill="#262626" textLength="66" lengthAdjust="spacingAndGlyphs">Patient eculizumab 2</text>
<rect x="154.80" y="174.60" width="3.6" height="3.6" fill="#3e0a16"/>
<text x="174.00" y="178.20" font-size="7.3" text-anchor="start" font-weight="normal" fill="#262626" textLength="53.3" lengthAdjust="spacingAndGlyphs">Control coversin</text>
<line x1="142.00" y1="184.00" x2="170.80" y2="184.00" stroke="#a8284a" stroke-width="1.2"/>
<text x="174.00" y="185.80" font-size="7.3" text-anchor="start" font-weight="normal" fill="#262626" textLength="53.3" lengthAdjust="spacingAndGlyphs">Control coversin</text>
<circle cx="156.60" cy="191.60" r="1.8" fill="#3e0a16"/>
<text x="174.00" y="193.40" font-size="7.3" text-anchor="start" font-weight="normal" fill="#262626" textLength="56.5" lengthAdjust="spacingAndGlyphs">Patient coversin 1</text>
<line x1="142.00" y1="199.20" x2="170.80" y2="199.20" stroke="#a8284a" stroke-width="1.2" stroke-dasharray="7.1,2.7"/>
<text x="174.00" y="201.00" font-size="7.3" text-anchor="start" font-weight="normal" fill="#262626" textLength="56.5" lengthAdjust="spacingAndGlyphs">Patient coversin 1</text>
<path d="M156.60,204.40 L159.00,206.80 L156.60,209.20 L154.20,206.80 Z" fill="#3e0a16"/>
<text x="174.00" y="208.60" font-size="7.3" text-anchor="start" font-weight="normal" fill="#262626" textLength="56.5" lengthAdjust="spacingAndGlyphs">Patient coversin 2</text>
<line x1="142.00" y1="214.40" x2="170.80" y2="214.40" stroke="#a8284a" stroke-width="1.2" stroke-dasharray="3.9,0.9"/>
<text x="174.00" y="216.20" font-size="7.3" text-anchor="start" font-weight="normal" fill="#262626" textLength="56.5" lengthAdjust="spacingAndGlyphs">Patient coversin 2</text>
<text x="7.00" y="335.20" font-size="12.2" text-anchor="start" font-weight="bold" fill="#000">C</text>
<line x1="51.30" y1="342.50" x2="51.30" y2="481.40" stroke="#111" stroke-width="1.3"/>
<line x1="48.10" y1="478.60" x2="51.20" y2="478.60" stroke="#111" stroke-width="1.1"/>
<text x="44.70" y="481.80" font-size="8.2" text-anchor="end" font-weight="normal" fill="#262626">0</text>
<line x1="48.10" y1="465.29" x2="51.20" y2="465.29" stroke="#111" stroke-width="1.1"/>
<text x="44.70" y="468.49" font-size="8.2" text-anchor="end" font-weight="normal" fill="#262626">20</text>
<line x1="48.10" y1="451.99" x2="51.20" y2="451.99" stroke="#111" stroke-width="1.1"/>
<text x="44.70" y="455.19" font-size="8.2" text-anchor="end" font-weight="normal" fill="#262626">40</text>
<line x1="48.10" y1="438.68" x2="51.20" y2="438.68" stroke="#111" stroke-width="1.1"/>
<text x="44.70" y="441.88" font-size="8.2" text-anchor="end" font-weight="normal" fill="#262626">60</text>
<line x1="48.10" y1="425.38" x2="51.20" y2="425.38" stroke="#111" stroke-width="1.1"/>
<text x="44.70" y="428.58" font-size="8.2" text-anchor="end" font-weight="normal" fill="#262626">80</text>
<line x1="48.10" y1="412.07" x2="51.20" y2="412.07" stroke="#111" stroke-width="1.1"/>
<text x="44.70" y="415.27" font-size="8.2" text-anchor="end" font-weight="normal" fill="#262626">100</text>
<line x1="48.10" y1="398.76" x2="51.20" y2="398.76" stroke="#111" stroke-width="1.1"/>
<text x="44.70" y="401.96" font-size="8.2" text-anchor="end" font-weight="normal" fill="#262626">120</text>
<line x1="48.10" y1="385.46" x2="51.20" y2="385.46" stroke="#111" stroke-width="1.1"/>
<text x="44.70" y="388.66" font-size="8.2" text-anchor="end" font-weight="normal" fill="#262626">140</text>
<line x1="48.10" y1="372.15" x2="51.20" y2="372.15" stroke="#111" stroke-width="1.1"/>
<text x="44.70" y="375.35" font-size="8.2" text-anchor="end" font-weight="normal" fill="#262626">160</text>
<line x1="48.10" y1="358.85" x2="51.20" y2="358.85" stroke="#111" stroke-width="1.1"/>
<text x="44.70" y="362.05" font-size="8.2" text-anchor="end" font-weight="normal" fill="#262626">180</text>
<line x1="48.10" y1="345.54" x2="51.20" y2="345.54" stroke="#111" stroke-width="1.1"/>
<text x="44.70" y="348.74" font-size="8.2" text-anchor="end" font-weight="normal" fill="#262626">200</text>
<line x1="48.20" y1="496.00" x2="238.50" y2="496.00" stroke="#111" stroke-width="1.3"/>
<line x1="51.20" y1="496.00" x2="51.20" y2="498.80" stroke="#111" stroke-width="1.1"/>
<text x="51.20" y="509.30" font-size="8.2" text-anchor="middle" font-weight="normal" fill="#262626">210</text>
<line x1="87.95" y1="496.00" x2="87.95" y2="498.80" stroke="#111" stroke-width="1.1"/>
<text x="87.95" y="509.30" font-size="8.2" text-anchor="middle" font-weight="normal" fill="#262626">220</text>
<line x1="124.70" y1="496.00" x2="124.70" y2="498.80" stroke="#111" stroke-width="1.1"/>
<text x="124.70" y="509.30" font-size="8.2" text-anchor="middle" font-weight="normal" fill="#262626">230</text>
<line x1="161.45" y1="496.00" x2="161.45" y2="498.80" stroke="#111" stroke-width="1.1"/>
<text x="161.45" y="509.30" font-size="8.2" text-anchor="middle" font-weight="normal" fill="#262626">240</text>
<line x1="198.20" y1="496.00" x2="198.20" y2="498.80" stroke="#111" stroke-width="1.1"/>
<text x="198.20" y="509.30" font-size="8.2" text-anchor="middle" font-weight="normal" fill="#262626">250</text>
<line x1="234.95" y1="496.00" x2="234.95" y2="498.80" stroke="#111" stroke-width="1.1"/>
<text x="234.95" y="509.30" font-size="8.2" text-anchor="middle" font-weight="normal" fill="#262626">260</text>
<text x="143.10" y="522.20" font-size="10.0" text-anchor="middle" font-weight="bold" fill="#262626" textLength="43.8" lengthAdjust="spacingAndGlyphs">Day post HSCT</text>
<text transform="translate(24.3,411.8) rotate(-90)" font-size="7.8" font-weight="bold" text-anchor="middle" fill="#262626" textLength="48" lengthAdjust="spacingAndGlyphs">CH50 (U Eq/ml)</text>
<line x1="52.00" y1="432.70" x2="236.00" y2="432.70" stroke="#222" stroke-width="1.3" stroke-dasharray="5.3,2.0"/>
<circle cx="128.30" cy="383.20" r="1.85" fill="#3a0a17" stroke="#120306" stroke-width="0.6"/>
<circle cx="132.00" cy="386.60" r="1.85" fill="#3a0a17" stroke="#120306" stroke-width="0.6"/>
<circle cx="135.70" cy="395.40" r="1.85" fill="#3a0a17" stroke="#120306" stroke-width="0.6"/>
<circle cx="139.40" cy="376.90" r="1.85" fill="#3a0a17" stroke="#120306" stroke-width="0.6"/>
<circle cx="143.10" cy="409.70" r="1.85" fill="#3a0a17" stroke="#120306" stroke-width="0.6"/>
<circle cx="146.80" cy="371.80" r="1.85" fill="#3a0a17" stroke="#120306" stroke-width="0.6"/>
<circle cx="150.50" cy="400.50" r="1.85" fill="#3a0a17" stroke="#120306" stroke-width="0.6"/>
<circle cx="154.20" cy="360.30" r="1.85" fill="#3a0a17" stroke="#120306" stroke-width="0.6"/>
<circle cx="157.80" cy="381.50" r="1.85" fill="#3a0a17" stroke="#120306" stroke-width="0.6"/>
<circle cx="161.50" cy="387.30" r="1.85" fill="#3a0a17" stroke="#120306" stroke-width="0.6"/>
<circle cx="165.20" cy="400.00" r="1.85" fill="#3a0a17" stroke="#120306" stroke-width="0.6"/>
<circle cx="168.90" cy="400.00" r="1.85" fill="#3a0a17" stroke="#120306" stroke-width="0.6"/>
<circle cx="172.60" cy="395.80" r="1.85" fill="#3a0a17" stroke="#120306" stroke-width="0.6"/>
<circle cx="176.30" cy="385.00" r="1.85" fill="#3a0a17" stroke="#120306" stroke-width="0.6"/>
<circle cx="180.00" cy="406.20" r="1.85" fill="#3a0a17" stroke="#120306" stroke-width="0.6"/>
<circle cx="183.70" cy="391.20" r="1.85" fill="#3a0a17" stroke="#120306" stroke-width="0.6"/>
<circle cx="187.40" cy="418.00" r="1.85" fill="#3a0a17" stroke="#120306" stroke-width="0.6"/>
<circle cx="191.10" cy="404.60" r="1.85" fill="#3a0a17" stroke="#120306" stroke-width="0.6"/>
<circle cx="194.50" cy="416.20" r="1.85" fill="#3a0a17" stroke="#120306" stroke-width="0.6"/>
<circle cx="198.20" cy="407.60" r="1.85" fill="#3a0a17" stroke="#120306" stroke-width="0.6"/>
<circle cx="201.90" cy="432.30" r="1.85" fill="#3a0a17" stroke="#120306" stroke-width="0.6"/>
<circle cx="205.60" cy="427.20" r="1.85" fill="#3a0a17" stroke="#120306" stroke-width="0.6"/>
<circle cx="209.30" cy="429.30" r="1.85" fill="#3a0a17" stroke="#120306" stroke-width="0.6"/>
<circle cx="213.00" cy="435.10" r="1.85" fill="#3a0a17" stroke="#120306" stroke-width="0.6"/>
<circle cx="216.70" cy="430.70" r="1.85" fill="#3a0a17" stroke="#120306" stroke-width="0.6"/>
<circle cx="220.40" cy="436.50" r="1.85" fill="#3a0a17" stroke="#120306" stroke-width="0.6"/>
<circle cx="224.10" cy="457.00" r="1.85" fill="#3a0a17" stroke="#120306" stroke-width="0.6"/>
<rect x="69.40" y="478.50" width="35.20" height="10.30" fill="#5ea437" stroke="#1f3315" stroke-width="1.1"/>
<text x="87.00" y="486.20" font-size="6.4" text-anchor="middle" font-weight="bold" fill="#eef7e6" textLength="15.5" lengthAdjust="spacingAndGlyphs">Daily</text>
<rect x="106.20" y="478.50" width="89.70" height="10.30" fill="#5ea437" stroke="#1f3315" stroke-width="1.1"/>
<text x="151.00" y="486.20" font-size="6.4" text-anchor="middle" font-weight="bold" fill="#eef7e6" textLength="41" lengthAdjust="spacingAndGlyphs">Alternate Day</text>
<rect x="198.00" y="478.50" width="22.30" height="10.30" fill="#5ea437" stroke="#1f3315" stroke-width="1.1"/>
<text x="209.20" y="486.20" font-size="6.4" text-anchor="middle" font-weight="bold" fill="#eef7e6" textLength="15.5" lengthAdjust="spacingAndGlyphs">Daily</text>
<text x="223.80" y="486.20" font-size="6.4" text-anchor="start" font-weight="normal" fill="#262626" textLength="25" lengthAdjust="spacingAndGlyphs">Coversin</text>
<text x="265.00" y="120.20" font-size="12.2" text-anchor="start" font-weight="bold" fill="#000">D</text>
<line x1="313.50" y1="135.20" x2="313.50" y2="273.70" stroke="#111" stroke-width="1.3"/>
<line x1="310.30" y1="270.60" x2="313.50" y2="270.60" stroke="#111" stroke-width="1.1"/>
<text x="307.50" y="273.80" font-size="8.2" text-anchor="end" font-weight="normal" fill="#262626">0</text>
<line x1="310.30" y1="243.99" x2="313.50" y2="243.99" stroke="#111" stroke-width="1.1"/>
<text x="307.50" y="247.19" font-size="8.2" text-anchor="end" font-weight="normal" fill="#262626">50</text>
<line x1="310.30" y1="217.38" x2="313.50" y2="217.38" stroke="#111" stroke-width="1.1"/>
<text x="307.50" y="220.58" font-size="8.2" text-anchor="end" font-weight="normal" fill="#262626">100</text>
<line x1="310.30" y1="190.77" x2="313.50" y2="190.77" stroke="#111" stroke-width="1.1"/>
<text x="307.50" y="193.97" font-size="8.2" text-anchor="end" font-weight="normal" fill="#262626">150</text>
<line x1="310.30" y1="164.16" x2="313.50" y2="164.16" stroke="#111" stroke-width="1.1"/>
<text x="307.50" y="167.36" font-size="8.2" text-anchor="end" font-weight="normal" fill="#262626">200</text>
<line x1="310.30" y1="137.55" x2="313.50" y2="137.55" stroke="#111" stroke-width="1.1"/>
<text x="307.50" y="140.75" font-size="8.2" text-anchor="end" font-weight="normal" fill="#262626">250</text>
<line x1="317.10" y1="280.00" x2="505.80" y2="280.00" stroke="#111" stroke-width="1.3"/>
<line x1="319.40" y1="280.00" x2="319.40" y2="283.00" stroke="#111" stroke-width="1.1"/>
<text x="319.40" y="293.50" font-size="8.2" text-anchor="middle" font-weight="normal" fill="#262626">120</text>
<line x1="339.82" y1="280.00" x2="339.82" y2="283.00" stroke="#111" stroke-width="1.1"/>
<text x="339.82" y="293.50" font-size="8.2" text-anchor="middle" font-weight="normal" fill="#262626">140</text>
<line x1="360.24" y1="280.00" x2="360.24" y2="283.00" stroke="#111" stroke-width="1.1"/>
<text x="360.24" y="293.50" font-size="8.2" text-anchor="middle" font-weight="normal" fill="#262626">160</text>
<line x1="380.67" y1="280.00" x2="380.67" y2="283.00" stroke="#111" stroke-width="1.1"/>
<text x="380.67" y="293.50" font-size="8.2" text-anchor="middle" font-weight="normal" fill="#262626">180</text>
<line x1="401.09" y1="280.00" x2="401.09" y2="283.00" stroke="#111" stroke-width="1.1"/>
<text x="401.09" y="293.50" font-size="8.2" text-anchor="middle" font-weight="normal" fill="#262626">200</text>
<line x1="421.51" y1="280.00" x2="421.51" y2="283.00" stroke="#111" stroke-width="1.1"/>
<text x="421.51" y="293.50" font-size="8.2" text-anchor="middle" font-weight="normal" fill="#262626">220</text>
<line x1="441.93" y1="280.00" x2="441.93" y2="283.00" stroke="#111" stroke-width="1.1"/>
<text x="441.93" y="293.50" font-size="8.2" text-anchor="middle" font-weight="normal" fill="#262626">240</text>
<line x1="462.35" y1="280.00" x2="462.35" y2="283.00" stroke="#111" stroke-width="1.1"/>
<text x="462.35" y="293.50" font-size="8.2" text-anchor="middle" font-weight="normal" fill="#262626">260</text>
<line x1="482.78" y1="280.00" x2="482.78" y2="283.00" stroke="#111" stroke-width="1.1"/>
<text x="482.78" y="293.50" font-size="8.2" text-anchor="middle" font-weight="normal" fill="#262626">280</text>
<line x1="503.20" y1="280.00" x2="503.20" y2="283.00" stroke="#111" stroke-width="1.1"/>
<text x="503.20" y="293.50" font-size="8.2" text-anchor="middle" font-weight="normal" fill="#262626">300</text>
<text transform="translate(288.0,207.0) rotate(-90)" font-size="8.2" font-weight="normal" text-anchor="middle" fill="#262626" stroke="#262626" stroke-width="0.15" textLength="98" lengthAdjust="spacingAndGlyphs">Reticulocyte count (10<tspan font-size="5" dy="-3">3</tspan><tspan dy="3">/mm</tspan><tspan font-size="5" dy="-3">3</tspan><tspan dy="3">)</tspan></text>
<rect x="339.60" y="264.20" width="68.70" height="12.20" fill="#5ea437" stroke="#1f3315" stroke-width="1.1"/>
<text x="344.40" y="272.60" font-size="6.4" text-anchor="start" font-weight="bold" fill="#eef7e6" textLength="35.5" lengthAdjust="spacingAndGlyphs">Eculizumab</text>
<rect x="415.20" y="264.20" width="42.90" height="12.20" fill="#c9c8cf" stroke="#1f3315" stroke-width="1.1"/>
<rect x="426.00" y="264.20" width="26.00" height="12.20" fill="#5ea437" stroke="#1f3315" stroke-width="1.1"/>
<text x="440.00" y="272.60" font-size="6.4" text-anchor="middle" font-weight="bold" fill="#eef7e6" textLength="24" lengthAdjust="spacingAndGlyphs">Coversin</text>
<circle cx="320.70" cy="217.80" r="1.85" fill="#3a0a17" stroke="#120306" stroke-width="0.6"/>
<circle cx="324.00" cy="217.00" r="1.85" fill="#3a0a17" stroke="#120306" stroke-width="0.6"/>
<circle cx="327.60" cy="221.90" r="1.85" fill="#3a0a17" stroke="#120306" stroke-width="0.6"/>
<circle cx="331.00" cy="224.00" r="1.85" fill="#3a0a17" stroke="#120306" stroke-width="0.6"/>
<circle cx="339.90" cy="209.10" r="1.85" fill="#3a0a17" stroke="#120306" stroke-width="0.6"/>
<circle cx="339.10" cy="222.90" r="1.85" fill="#3a0a17" stroke="#120306" stroke-width="0.6"/>
<circle cx="329.80" cy="238.90" r="1.85" fill="#3a0a17" stroke="#120306" stroke-width="0.6"/>
<circle cx="333.00" cy="240.40" r="1.85" fill="#3a0a17" stroke="#120306" stroke-width="0.6"/>
<circle cx="331.70" cy="242.30" r="1.85" fill="#3a0a17" stroke="#120306" stroke-width="0.6"/>
<circle cx="334.90" cy="248.80" r="1.85" fill="#3a0a17" stroke="#120306" stroke-width="0.6"/>
<circle cx="352.20" cy="245.00" r="1.85" fill="#3a0a17" stroke="#120306" stroke-width="0.6"/>
<circle cx="365.60" cy="229.90" r="1.85" fill="#3a0a17" stroke="#120306" stroke-width="0.6"/>
<circle cx="368.80" cy="234.60" r="1.85" fill="#3a0a17" stroke="#120306" stroke-width="0.6"/>
<circle cx="369.60" cy="240.50" r="1.85" fill="#3a0a17" stroke="#120306" stroke-width="0.6"/>
<circle cx="370.40" cy="221.40" r="1.85" fill="#3a0a17" stroke="#120306" stroke-width="0.6"/>
<circle cx="371.80" cy="223.40" r="1.85" fill="#3a0a17" stroke="#120306" stroke-width="0.6"/>
<circle cx="372.70" cy="216.90" r="1.85" fill="#3a0a17" stroke="#120306" stroke-width="0.6"/>
<circle cx="376.60" cy="228.80" r="1.85" fill="#3a0a17" stroke="#120306" stroke-width="0.6"/>
<circle cx="380.80" cy="235.90" r="1.85" fill="#3a0a17" stroke="#120306" stroke-width="0.6"/>
<circle cx="383.70" cy="239.70" r="1.85" fill="#3a0a17" stroke="#120306" stroke-width="0.6"/>
<circle cx="385.80" cy="241.60" r="1.85" fill="#3a0a17" stroke="#120306" stroke-width="0.6"/>
<circle cx="382.90" cy="258.00" r="1.85" fill="#3a0a17" stroke="#120306" stroke-width="0.6"/>
<circle cx="389.10" cy="252.20" r="1.85" fill="#3a0a17" stroke="#120306" stroke-width="0.6"/>
<circle cx="392.00" cy="250.80" r="1.85" fill="#3a0a17" stroke="#120306" stroke-width="0.6"/>
<circle cx="391.10" cy="257.30" r="1.85" fill="#3a0a17" stroke="#120306" stroke-width="0.6"/>
<circle cx="396.20" cy="237.30" r="1.85" fill="#3a0a17" stroke="#120306" stroke-width="0.6"/>
<circle cx="399.40" cy="233.90" r="1.85" fill="#3a0a17" stroke="#120306" stroke-width="0.6"/>
<circle cx="402.30" cy="232.30" r="1.85" fill="#3a0a17" stroke="#120306" stroke-width="0.6"/>
<circle cx="395.20" cy="244.00" r="1.85" fill="#3a0a17" stroke="#120306" stroke-width="0.6"/>
<circle cx="397.30" cy="245.20" r="1.85" fill="#3a0a17" stroke="#120306" stroke-width="0.6"/>
<circle cx="400.70" cy="244.00" r="1.85" fill="#3a0a17" stroke="#120306" stroke-width="0.6"/>
<circle cx="403.10" cy="248.40" r="1.85" fill="#3a0a17" stroke="#120306" stroke-width="0.6"/>
<circle cx="404.00" cy="253.20" r="1.85" fill="#3a0a17" stroke="#120306" stroke-width="0.6"/>
<circle cx="406.30" cy="232.10" r="1.85" fill="#3a0a17" stroke="#120306" stroke-width="0.6"/>
<circle cx="407.50" cy="238.80" r="1.85" fill="#3a0a17" stroke="#120306" stroke-width="0.6"/>
<circle cx="408.70" cy="244.30" r="1.85" fill="#3a0a17" stroke="#120306" stroke-width="0.6"/>
<circle cx="410.10" cy="246.70" r="1.85" fill="#3a0a17" stroke="#120306" stroke-width="0.6"/>
<circle cx="411.30" cy="248.20" r="1.85" fill="#3a0a17" stroke="#120306" stroke-width="0.6"/>
<circle cx="413.00" cy="249.60" r="1.85" fill="#3a0a17" stroke="#120306" stroke-width="0.6"/>
<circle cx="415.40" cy="250.60" r="1.85" fill="#3a0a17" stroke="#120306" stroke-width="0.6"/>
<circle cx="418.60" cy="235.50" r="1.85" fill="#3a0a17" stroke="#120306" stroke-width="0.6"/>
<circle cx="416.50" cy="240.00" r="1.85" fill="#3a0a17" stroke="#120306" stroke-width="0.6"/>
<circle cx="418.80" cy="241.40" r="1.85" fill="#3a0a17" stroke="#120306" stroke-width="0.6"/>
<circle cx="420.70" cy="243.80" r="1.85" fill="#3a0a17" stroke="#120306" stroke-width="0.6"/>
<circle cx="421.60" cy="246.30" r="1.85" fill="#3a0a17" stroke="#120306" stroke-width="0.6"/>
<circle cx="423.60" cy="245.80" r="1.85" fill="#3a0a17" stroke="#120306" stroke-width="0.6"/>
<circle cx="424.80" cy="242.90" r="1.85" fill="#3a0a17" stroke="#120306" stroke-width="0.6"/>
<circle cx="426.70" cy="235.50" r="1.85" fill="#3a0a17" stroke="#120306" stroke-width="0.6"/>
<circle cx="428.10" cy="240.80" r="1.85" fill="#3a0a17" stroke="#120306" stroke-width="0.6"/>
<circle cx="429.80" cy="225.10" r="1.85" fill="#3a0a17" stroke="#120306" stroke-width="0.6"/>
<circle cx="432.90" cy="225.80" r="1.85" fill="#3a0a17" stroke="#120306" stroke-width="0.6"/>
<circle cx="433.80" cy="231.20" r="1.85" fill="#3a0a17" stroke="#120306" stroke-width="0.6"/>
<circle cx="435.60" cy="232.80" r="1.85" fill="#3a0a17" stroke="#120306" stroke-width="0.6"/>
<circle cx="437.00" cy="238.10" r="1.85" fill="#3a0a17" stroke="#120306" stroke-width="0.6"/>
<circle cx="440.40" cy="228.50" r="1.85" fill="#3a0a17" stroke="#120306" stroke-width="0.6"/>
<circle cx="442.40" cy="234.40" r="1.85" fill="#3a0a17" stroke="#120306" stroke-width="0.6"/>
<circle cx="443.40" cy="237.30" r="1.85" fill="#3a0a17" stroke="#120306" stroke-width="0.6"/>
<circle cx="446.00" cy="235.90" r="1.85" fill="#3a0a17" stroke="#120306" stroke-width="0.6"/>
<circle cx="447.20" cy="238.30" r="1.85" fill="#3a0a17" stroke="#120306" stroke-width="0.6"/>
<circle cx="449.10" cy="244.50" r="1.85" fill="#3a0a17" stroke="#120306" stroke-width="0.6"/>
<circle cx="452.00" cy="245.20" r="1.85" fill="#3a0a17" stroke="#120306" stroke-width="0.6"/>
<circle cx="454.20" cy="250.60" r="1.85" fill="#3a0a17" stroke="#120306" stroke-width="0.6"/>
<circle cx="455.90" cy="252.50" r="1.85" fill="#3a0a17" stroke="#120306" stroke-width="0.6"/>
<circle cx="458.80" cy="258.70" r="1.85" fill="#3a0a17" stroke="#120306" stroke-width="0.6"/>
<circle cx="461.90" cy="262.10" r="1.85" fill="#3a0a17" stroke="#120306" stroke-width="0.6"/>
<circle cx="462.30" cy="264.20" r="1.85" fill="#3a0a17" stroke="#120306" stroke-width="0.6"/>
<circle cx="465.00" cy="258.70" r="1.85" fill="#3a0a17" stroke="#120306" stroke-width="0.6"/>
<circle cx="468.40" cy="260.60" r="1.85" fill="#3a0a17" stroke="#120306" stroke-width="0.6"/>
<circle cx="470.80" cy="250.80" r="1.85" fill="#3a0a17" stroke="#120306" stroke-width="0.6"/>
<circle cx="472.70" cy="243.10" r="1.85" fill="#3a0a17" stroke="#120306" stroke-width="0.6"/>
<circle cx="474.80" cy="240.70" r="1.85" fill="#3a0a17" stroke="#120306" stroke-width="0.6"/>
<circle cx="475.80" cy="247.10" r="1.85" fill="#3a0a17" stroke="#120306" stroke-width="0.6"/>
<line x1="313.70" y1="353.80" x2="313.70" y2="492.30" stroke="#111" stroke-width="1.3"/>
<line x1="310.60" y1="489.56" x2="313.80" y2="489.56" stroke="#111" stroke-width="1.1"/>
<text x="307.30" y="492.76" font-size="8.2" text-anchor="end" font-weight="normal" fill="#262626">400</text>
<line x1="310.60" y1="477.50" x2="313.80" y2="477.50" stroke="#111" stroke-width="1.1"/>
<text x="307.30" y="480.70" font-size="8.2" text-anchor="end" font-weight="normal" fill="#262626">600</text>
<line x1="310.60" y1="465.44" x2="313.80" y2="465.44" stroke="#111" stroke-width="1.1"/>
<text x="307.30" y="468.64" font-size="8.2" text-anchor="end" font-weight="normal" fill="#262626">800</text>
<line x1="310.60" y1="453.38" x2="313.80" y2="453.38" stroke="#111" stroke-width="1.1"/>
<text x="307.30" y="456.58" font-size="8.2" text-anchor="end" font-weight="normal" fill="#262626">1000</text>
<line x1="310.60" y1="441.32" x2="313.80" y2="441.32" stroke="#111" stroke-width="1.1"/>
<text x="307.30" y="444.52" font-size="8.2" text-anchor="end" font-weight="normal" fill="#262626">1200</text>
<line x1="310.60" y1="429.26" x2="313.80" y2="429.26" stroke="#111" stroke-width="1.1"/>
<text x="307.30" y="432.46" font-size="8.2" text-anchor="end" font-weight="normal" fill="#262626">1400</text>
<line x1="310.60" y1="417.20" x2="313.80" y2="417.20" stroke="#111" stroke-width="1.1"/>
<text x="307.30" y="420.40" font-size="8.2" text-anchor="end" font-weight="normal" fill="#262626">1600</text>
<line x1="310.60" y1="405.14" x2="313.80" y2="405.14" stroke="#111" stroke-width="1.1"/>
<text x="307.30" y="408.34" font-size="8.2" text-anchor="end" font-weight="normal" fill="#262626">1800</text>
<line x1="310.60" y1="393.08" x2="313.80" y2="393.08" stroke="#111" stroke-width="1.1"/>
<text x="307.30" y="396.28" font-size="8.2" text-anchor="end" font-weight="normal" fill="#262626">2000</text>
<line x1="310.60" y1="381.02" x2="313.80" y2="381.02" stroke="#111" stroke-width="1.1"/>
<text x="307.30" y="384.22" font-size="8.2" text-anchor="end" font-weight="normal" fill="#262626">2200</text>
<line x1="310.60" y1="368.96" x2="313.80" y2="368.96" stroke="#111" stroke-width="1.1"/>
<text x="307.30" y="372.16" font-size="8.2" text-anchor="end" font-weight="normal" fill="#262626">2400</text>
<line x1="310.60" y1="356.90" x2="313.80" y2="356.90" stroke="#111" stroke-width="1.1"/>
<text x="307.30" y="360.10" font-size="8.2" text-anchor="end" font-weight="normal" fill="#262626">2600</text>
<line x1="319.30" y1="496.10" x2="508.00" y2="496.10" stroke="#111" stroke-width="1.3"/>
<line x1="322.30" y1="496.10" x2="322.30" y2="499.10" stroke="#111" stroke-width="1.1"/>
<text x="322.30" y="509.20" font-size="8.2" text-anchor="middle" font-weight="normal" fill="#262626">120</text>
<line x1="342.53" y1="496.10" x2="342.53" y2="499.10" stroke="#111" stroke-width="1.1"/>
<text x="342.53" y="509.20" font-size="8.2" text-anchor="middle" font-weight="normal" fill="#262626">140</text>
<line x1="362.76" y1="496.10" x2="362.76" y2="499.10" stroke="#111" stroke-width="1.1"/>
<text x="362.76" y="509.20" font-size="8.2" text-anchor="middle" font-weight="normal" fill="#262626">160</text>
<line x1="383.00" y1="496.10" x2="383.00" y2="499.10" stroke="#111" stroke-width="1.1"/>
<text x="383.00" y="509.20" font-size="8.2" text-anchor="middle" font-weight="normal" fill="#262626">180</text>
<line x1="403.23" y1="496.10" x2="403.23" y2="499.10" stroke="#111" stroke-width="1.1"/>
<text x="403.23" y="509.20" font-size="8.2" text-anchor="middle" font-weight="normal" fill="#262626">200</text>
<line x1="423.46" y1="496.10" x2="423.46" y2="499.10" stroke="#111" stroke-width="1.1"/>
<text x="423.46" y="509.20" font-size="8.2" text-anchor="middle" font-weight="normal" fill="#262626">220</text>
<line x1="443.69" y1="496.10" x2="443.69" y2="499.10" stroke="#111" stroke-width="1.1"/>
<text x="443.69" y="509.20" font-size="8.2" text-anchor="middle" font-weight="normal" fill="#262626">240</text>
<line x1="463.92" y1="496.10" x2="463.92" y2="499.10" stroke="#111" stroke-width="1.1"/>
<text x="463.92" y="509.20" font-size="8.2" text-anchor="middle" font-weight="normal" fill="#262626">260</text>
<line x1="484.16" y1="496.10" x2="484.16" y2="499.10" stroke="#111" stroke-width="1.1"/>
<text x="484.16" y="509.20" font-size="8.2" text-anchor="middle" font-weight="normal" fill="#262626">280</text>
<line x1="504.39" y1="496.10" x2="504.39" y2="499.10" stroke="#111" stroke-width="1.1"/>
<text x="504.39" y="509.20" font-size="8.2" text-anchor="middle" font-weight="normal" fill="#262626">300</text>
<text x="413.60" y="522.20" font-size="10.0" text-anchor="middle" font-weight="bold" fill="#262626" textLength="43.5" lengthAdjust="spacingAndGlyphs">Day post HSCT</text>
<text transform="translate(277.0,423.0) rotate(-90)" font-size="7.8" font-weight="bold" text-anchor="middle" fill="#262626" textLength="32.6" lengthAdjust="spacingAndGlyphs">LDH (U/L)</text>
<rect x="342.20" y="480.60" width="69.30" height="12.80" fill="#5ea437" stroke="#1f3315" stroke-width="1.1"/>
<text x="347.00" y="489.30" font-size="6.4" text-anchor="start" font-weight="bold" fill="#eef7e6" textLength="35.5" lengthAdjust="spacingAndGlyphs">Eculizumab</text>
<rect x="418.60" y="480.60" width="42.70" height="12.80" fill="#c9c8cf" stroke="#1f3315" stroke-width="1.1"/>
<rect x="427.50" y="480.60" width="27.90" height="12.80" fill="#5ea437" stroke="#1f3315" stroke-width="1.1"/>
<text x="442.45" y="489.30" font-size="6.4" text-anchor="middle" font-weight="bold" fill="#eef7e6" textLength="24" lengthAdjust="spacingAndGlyphs">Coversin</text>
<circle cx="333.40" cy="403.90" r="1.85" fill="#3a0a17" stroke="#120306" stroke-width="0.6"/>
<circle cx="332.00" cy="416.40" r="1.85" fill="#3a0a17" stroke="#120306" stroke-width="0.6"/>
<circle cx="339.30" cy="412.50" r="1.85" fill="#3a0a17" stroke="#120306" stroke-width="0.6"/>
<circle cx="346.50" cy="408.60" r="1.85" fill="#3a0a17" stroke="#120306" stroke-width="0.6"/>
<circle cx="343.50" cy="431.30" r="1.85" fill="#3a0a17" stroke="#120306" stroke-width="0.6"/>
<circle cx="336.20" cy="435.70" r="1.85" fill="#3a0a17" stroke="#120306" stroke-width="0.6"/>
<circle cx="341.50" cy="438.60" r="1.85" fill="#3a0a17" stroke="#120306" stroke-width="0.6"/>
<circle cx="344.70" cy="443.50" r="1.85" fill="#3a0a17" stroke="#120306" stroke-width="0.6"/>
<circle cx="353.70" cy="435.90" r="1.85" fill="#3a0a17" stroke="#120306" stroke-width="0.6"/>
<circle cx="350.60" cy="441.40" r="1.85" fill="#3a0a17" stroke="#120306" stroke-width="0.6"/>
<circle cx="359.60" cy="439.40" r="1.85" fill="#3a0a17" stroke="#120306" stroke-width="0.6"/>
<circle cx="357.90" cy="443.30" r="1.85" fill="#3a0a17" stroke="#120306" stroke-width="0.6"/>
<circle cx="356.70" cy="445.80" r="1.85" fill="#3a0a17" stroke="#120306" stroke-width="0.6"/>
<circle cx="360.80" cy="448.40" r="1.85" fill="#3a0a17" stroke="#120306" stroke-width="0.6"/>
<circle cx="364.80" cy="451.90" r="1.85" fill="#3a0a17" stroke="#120306" stroke-width="0.6"/>
<circle cx="323.20" cy="456.50" r="1.85" fill="#3a0a17" stroke="#120306" stroke-width="0.6"/>
<circle cx="351.80" cy="458.00" r="1.85" fill="#3a0a17" stroke="#120306" stroke-width="0.6"/>
<circle cx="365.80" cy="418.40" r="1.85" fill="#3a0a17" stroke="#120306" stroke-width="0.6"/>
<circle cx="369.20" cy="417.10" r="1.85" fill="#3a0a17" stroke="#120306" stroke-width="0.6"/>
<circle cx="368.00" cy="433.00" r="1.85" fill="#3a0a17" stroke="#120306" stroke-width="0.6"/>
<circle cx="379.20" cy="368.30" r="1.85" fill="#3a0a17" stroke="#120306" stroke-width="0.6"/>
<circle cx="372.90" cy="401.70" r="1.85" fill="#3a0a17" stroke="#120306" stroke-width="0.6"/>
<circle cx="370.80" cy="412.30" r="1.85" fill="#3a0a17" stroke="#120306" stroke-width="0.6"/>
<circle cx="381.00" cy="411.90" r="1.85" fill="#3a0a17" stroke="#120306" stroke-width="0.6"/>
<circle cx="382.10" cy="420.20" r="1.85" fill="#3a0a17" stroke="#120306" stroke-width="0.6"/>
<circle cx="367.90" cy="432.90" r="1.85" fill="#3a0a17" stroke="#120306" stroke-width="0.6"/>
<circle cx="372.40" cy="434.00" r="1.85" fill="#3a0a17" stroke="#120306" stroke-width="0.6"/>
<circle cx="374.20" cy="436.50" r="1.85" fill="#3a0a17" stroke="#120306" stroke-width="0.6"/>
<circle cx="361.10" cy="448.00" r="1.85" fill="#3a0a17" stroke="#120306" stroke-width="0.6"/>
<circle cx="365.00" cy="451.80" r="1.85" fill="#3a0a17" stroke="#120306" stroke-width="0.6"/>
<circle cx="374.90" cy="451.80" r="1.85" fill="#3a0a17" stroke="#120306" stroke-width="0.6"/>
<circle cx="378.00" cy="449.30" r="1.85" fill="#3a0a17" stroke="#120306" stroke-width="0.6"/>
<circle cx="398.60" cy="419.10" r="1.85" fill="#3a0a17" stroke="#120306" stroke-width="0.6"/>
<circle cx="392.30" cy="424.30" r="1.85" fill="#3a0a17" stroke="#120306" stroke-width="0.6"/>
<circle cx="393.40" cy="430.00" r="1.85" fill="#3a0a17" stroke="#120306" stroke-width="0.6"/>
<circle cx="389.30" cy="434.00" r="1.85" fill="#3a0a17" stroke="#120306" stroke-width="0.6"/>
<circle cx="388.20" cy="439.00" r="1.85" fill="#3a0a17" stroke="#120306" stroke-width="0.6"/>
<circle cx="403.50" cy="432.20" r="1.85" fill="#3a0a17" stroke="#120306" stroke-width="0.6"/>
<circle cx="385.50" cy="454.30" r="1.85" fill="#3a0a17" stroke="#120306" stroke-width="0.6"/>
<circle cx="390.50" cy="452.50" r="1.85" fill="#3a0a17" stroke="#120306" stroke-width="0.6"/>
<circle cx="383.70" cy="459.30" r="1.85" fill="#3a0a17" stroke="#120306" stroke-width="0.6"/>
<circle cx="387.10" cy="460.80" r="1.85" fill="#3a0a17" stroke="#120306" stroke-width="0.6"/>
<circle cx="386.60" cy="463.80" r="1.85" fill="#3a0a17" stroke="#120306" stroke-width="0.6"/>
<circle cx="391.60" cy="457.00" r="1.85" fill="#3a0a17" stroke="#120306" stroke-width="0.6"/>
<circle cx="395.00" cy="457.50" r="1.85" fill="#3a0a17" stroke="#120306" stroke-width="0.6"/>
<circle cx="396.10" cy="464.90" r="1.85" fill="#3a0a17" stroke="#120306" stroke-width="0.6"/>
<circle cx="397.20" cy="462.60" r="1.85" fill="#3a0a17" stroke="#120306" stroke-width="0.6"/>
<circle cx="401.70" cy="452.00" r="1.85" fill="#3a0a17" stroke="#120306" stroke-width="0.6"/>
<circle cx="402.90" cy="447.50" r="1.85" fill="#3a0a17" stroke="#120306" stroke-width="0.6"/>
<circle cx="405.10" cy="443.50" r="1.85" fill="#3a0a17" stroke="#120306" stroke-width="0.6"/>
<circle cx="406.90" cy="443.00" r="1.85" fill="#3a0a17" stroke="#120306" stroke-width="0.6"/>
<circle cx="414.70" cy="436.60" r="1.85" fill="#3a0a17" stroke="#120306" stroke-width="0.6"/>
<circle cx="410.80" cy="452.00" r="1.85" fill="#3a0a17" stroke="#120306" stroke-width="0.6"/>
<circle cx="415.80" cy="450.50" r="1.85" fill="#3a0a17" stroke="#120306" stroke-width="0.6"/>
<circle cx="419.20" cy="453.10" r="1.85" fill="#3a0a17" stroke="#120306" stroke-width="0.6"/>
<circle cx="411.90" cy="456.20" r="1.85" fill="#3a0a17" stroke="#120306" stroke-width="0.6"/>
<circle cx="414.20" cy="456.50" r="1.85" fill="#3a0a17" stroke="#120306" stroke-width="0.6"/>
<circle cx="412.70" cy="460.30" r="1.85" fill="#3a0a17" stroke="#120306" stroke-width="0.6"/>
<circle cx="417.30" cy="461.80" r="1.85" fill="#3a0a17" stroke="#120306" stroke-width="0.6"/>
<circle cx="420.80" cy="465.80" r="1.85" fill="#3a0a17" stroke="#120306" stroke-width="0.6"/>
<circle cx="425.80" cy="457.40" r="1.85" fill="#3a0a17" stroke="#120306" stroke-width="0.6"/>
<circle cx="428.40" cy="457.40" r="1.85" fill="#3a0a17" stroke="#120306" stroke-width="0.6"/>
<circle cx="432.40" cy="455.80" r="1.85" fill="#3a0a17" stroke="#120306" stroke-width="0.6"/>
<circle cx="435.50" cy="457.40" r="1.85" fill="#3a0a17" stroke="#120306" stroke-width="0.6"/>
<circle cx="439.20" cy="452.60" r="1.85" fill="#3a0a17" stroke="#120306" stroke-width="0.6"/>
<circle cx="441.20" cy="450.00" r="1.85" fill="#3a0a17" stroke="#120306" stroke-width="0.6"/>
<circle cx="442.40" cy="445.80" r="1.85" fill="#3a0a17" stroke="#120306" stroke-width="0.6"/>
<circle cx="446.50" cy="448.90" r="1.85" fill="#3a0a17" stroke="#120306" stroke-width="0.6"/>
<circle cx="456.80" cy="447.70" r="1.85" fill="#3a0a17" stroke="#120306" stroke-width="0.6"/>
<circle cx="467.80" cy="452.30" r="1.85" fill="#3a0a17" stroke="#120306" stroke-width="0.6"/>
<circle cx="460.70" cy="466.20" r="1.85" fill="#3a0a17" stroke="#120306" stroke-width="0.6"/>
<circle cx="463.80" cy="472.30" r="1.85" fill="#3a0a17" stroke="#120306" stroke-width="0.6"/>
<rect x="0.7" y="0.7" width="518.6" height="530.6" fill="none" stroke="#000" stroke-width="1.4"/>
</svg>
</body></html>
